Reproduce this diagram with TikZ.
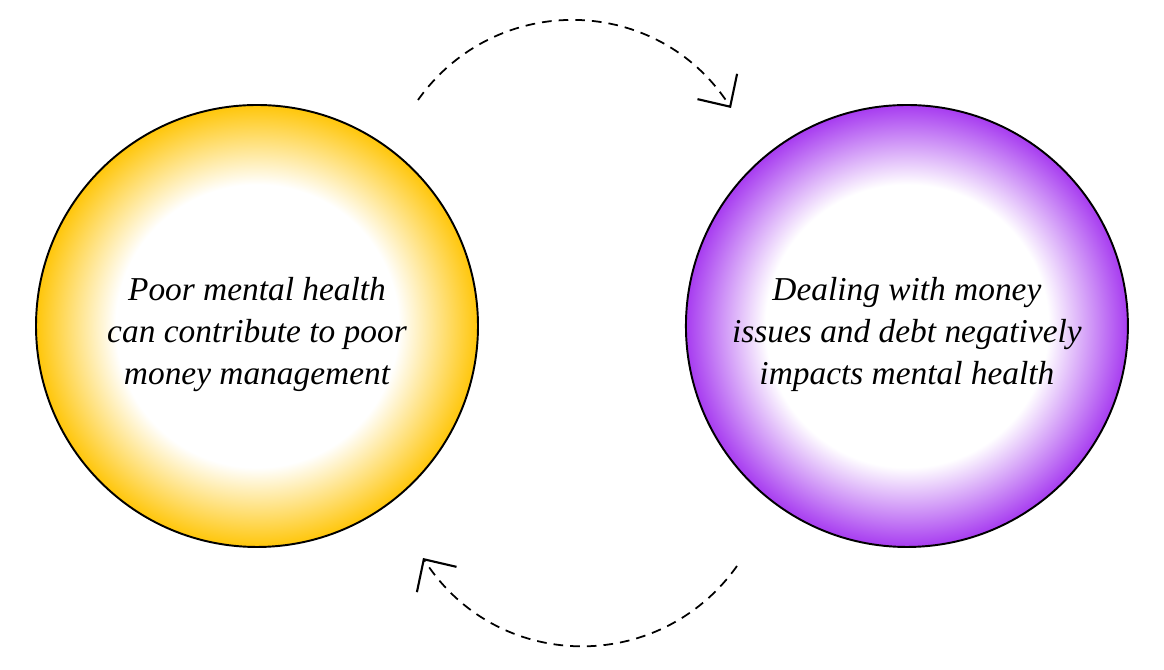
\documentclass[tikz,border=0pt]{standalone}
\usepackage{fontspec}
\setmainfont{Liberation Serif}
\usetikzlibrary{positioning,arrows.meta}

\definecolor{loopgold}{RGB}{255,198,10}
\definecolor{loopviolet}{RGB}{167,60,240}

% white middle, coloured rim
\pgfdeclareradialshading{goldrim}{\pgfpoint{0bp}{0bp}}{color(0bp)=(white); color(16bp)=(white); color(25bp)=(loopgold); color(50bp)=(loopgold)}
\pgfdeclareradialshading{violetrim}{\pgfpoint{0bp}{0bp}}{color(0bp)=(white); color(16bp)=(white); color(25bp)=(loopviolet); color(50bp)=(loopviolet)}

\begin{document}
\begin{tikzpicture}[
     % define styles
     ring/.style={
         circle,
         draw=black,
         line width=1.1pt,
         minimum size=8.84cm,
         inner sep=0pt,
         align=center,
         text height=2.5cm,
         font=\fontsize{19}{24}\selectfont\itshape
     },
     loop arrow/.style={
         line width=1pt,
         dash pattern=on 5.5pt off 4pt,
         -{Straight Barb[length=0.48cm,width=0.94cm,line width=1.2pt]}
     }
]
\useasboundingbox (0,0) rectangle (23.28,13.4);

% the two circles
\node[ring, shading=goldrim] (health) at (5.14,6.88)
    {Poor mental health\\can contribute to poor\\money management};
\node[ring, shading=violetrim, right=4.12cm of health] (money)
    {Dealing with money\\issues and debt negatively\\impacts mental health};

% ends of the arcs
\coordinate (topstart) at (8.36,11.40);
\coordinate (topend) at (14.62,11.24);
\coordinate (botstart) at (14.74,2.08);
\coordinate (botend) at (8.46,2.24);

\draw[loop arrow] (topstart) to[bend left=56, looseness=1.1] (topend);
\draw[loop arrow] (botstart) to[bend left=56, looseness=1.1] (botend);
\end{tikzpicture}
\end{document}
